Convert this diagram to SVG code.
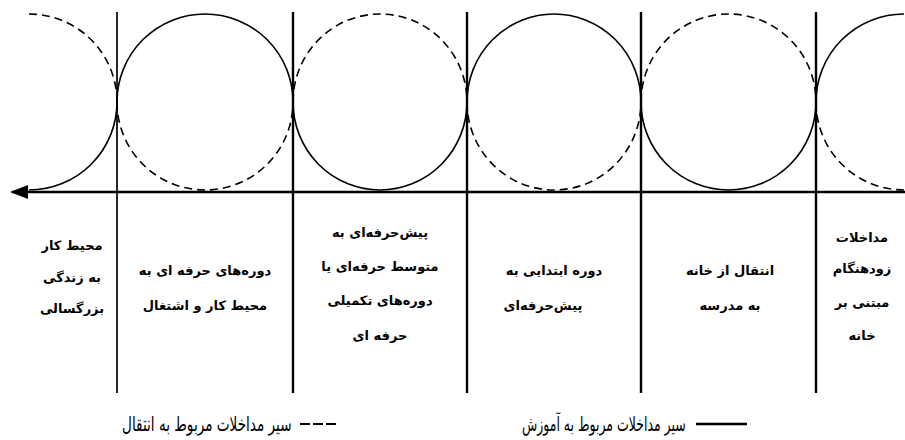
<svg xmlns="http://www.w3.org/2000/svg" width="905" height="440" viewBox="0 0 905 440">
<defs>
<marker id="arrow" markerUnits="userSpaceOnUse" markerWidth="18" markerHeight="14" viewBox="0 0 18 14" refX="16" refY="7" orient="auto"><path d="M0,0 L18,7 L0,14 z" fill="#000"/></marker>
</defs>
<style>
.solid{fill:none;stroke:#000;stroke-width:1.6}
.dash{fill:none;stroke:#000;stroke-width:1.6;stroke-dasharray:8 5}
.vline{stroke:#000;stroke-width:2.4}
.axis{stroke:#000;stroke-width:2.4}
.lbl{font-family:"DejaVu Sans",sans-serif;font-weight:bold;font-size:13px;text-anchor:middle;fill:#000}
.leg{font-family:"DejaVu Sans",sans-serif;font-size:20px;fill:#000}
</style>
<rect width="905" height="440" fill="#fff"/>
<g id="connectors">
<path class="solid" d="M117,102 A88,88 0 0 1 29,190 M117,102 A88,88 0 0 1 293,102 M293,102 A87,88 0 0 0 467,102 M467,102 A87,88 0 0 1 641,102 M641,102 A87.5,88 0 0 0 816,102 M816,102 A88,88 0 0 1 904,14"/>
<path class="dash" d="M29,14 A88,88 0 0 1 117,102 M117,102 A88,88 0 0 0 293,102 M293,102 A87,88 0 0 1 467,102 M467,102 A87,88 0 0 0 641,102 M641,102 A87.5,88 0 0 1 816,102 M816,102 A88,88 0 0 0 904,190"/>
<line class="axis" x1="905" y1="192" x2="12" y2="192" marker-end="url(#arrow)"/>
<line class="vline" x1="117" y1="12" x2="117" y2="393" style="stroke-width:1.7"/>
<line class="vline" x1="293" y1="12" x2="293" y2="393"/>
<line class="vline" x1="467" y1="12" x2="467" y2="393"/>
<line class="vline" x1="641" y1="12" x2="641" y2="393"/>
<line class="vline" x1="816" y1="12" x2="816" y2="393"/>
</g>
<g id="stage1">
<text class="lbl" x="72" y="250"><tspan>محیط</tspan> <tspan>کار</tspan></text>
<text class="lbl" x="72" y="282"><tspan>به</tspan> <tspan>زندگی</tspan></text>
<text class="lbl" x="72" y="313">بزرگسالی</text>
</g>
<g id="stage2">
<text class="lbl" x="205" y="275"><tspan>دوره‌های</tspan> <tspan>حرفه</tspan> <tspan>ای</tspan> <tspan>به</tspan></text>
<text class="lbl" x="205" y="310"><tspan>محیط</tspan> <tspan>کار</tspan> <tspan>و</tspan> <tspan>اشتغال</tspan></text>
</g>
<g id="stage3">
<text class="lbl" x="380" y="237"><tspan>پیش‌حرفه‌ای</tspan> <tspan>به</tspan></text>
<text class="lbl" x="380" y="271"><tspan>متوسط</tspan> <tspan>حرفه‌ای</tspan> <tspan>یا</tspan></text>
<text class="lbl" x="380" y="305"><tspan>دوره‌های</tspan> <tspan>تکمیلی</tspan></text>
<text class="lbl" x="380" y="340"><tspan>حرفه</tspan> <tspan>ای</tspan></text>
</g>
<g id="stage4">
<text class="lbl" x="554" y="275"><tspan>دوره</tspan> <tspan>ابتدایی</tspan> <tspan>به</tspan></text>
<text class="lbl" x="543" y="310">پیش‌حرفه‌ای</text>
</g>
<g id="stage5">
<text class="lbl" x="730" y="275"><tspan>انتقال</tspan> <tspan>از</tspan> <tspan>خانه</tspan></text>
<text class="lbl" x="730" y="310"><tspan>به</tspan> <tspan>مدرسه</tspan></text>
</g>
<g id="stage6">
<text class="lbl" x="862" y="242">مداخلات</text>
<text class="lbl" x="862" y="273">زودهنگام</text>
<text class="lbl" x="862" y="307"><tspan>مبتنی</tspan> <tspan>بر</tspan></text>
<text class="lbl" x="862" y="340">خانه</text>
</g>
<g id="legend">
<text class="leg" transform="translate(122,431) scale(0.68,1)" x="0" y="0"><tspan>سیر</tspan> <tspan>مداخلات</tspan> <tspan>مربوط</tspan> <tspan>به</tspan> <tspan>انتقال</tspan></text>
<line x1="300" y1="424" x2="337" y2="424" stroke="#000" stroke-width="2" stroke-dasharray="10 3"/>
<text class="leg" transform="translate(522,431) scale(0.625,1)" x="0" y="0"><tspan>سیر</tspan> <tspan>مداخلات</tspan> <tspan>مربوط</tspan> <tspan>به</tspan> <tspan>آموزش</tspan></text>
<line x1="696" y1="424" x2="747" y2="424" stroke="#000" stroke-width="2.5"/>
</g>
</svg>
